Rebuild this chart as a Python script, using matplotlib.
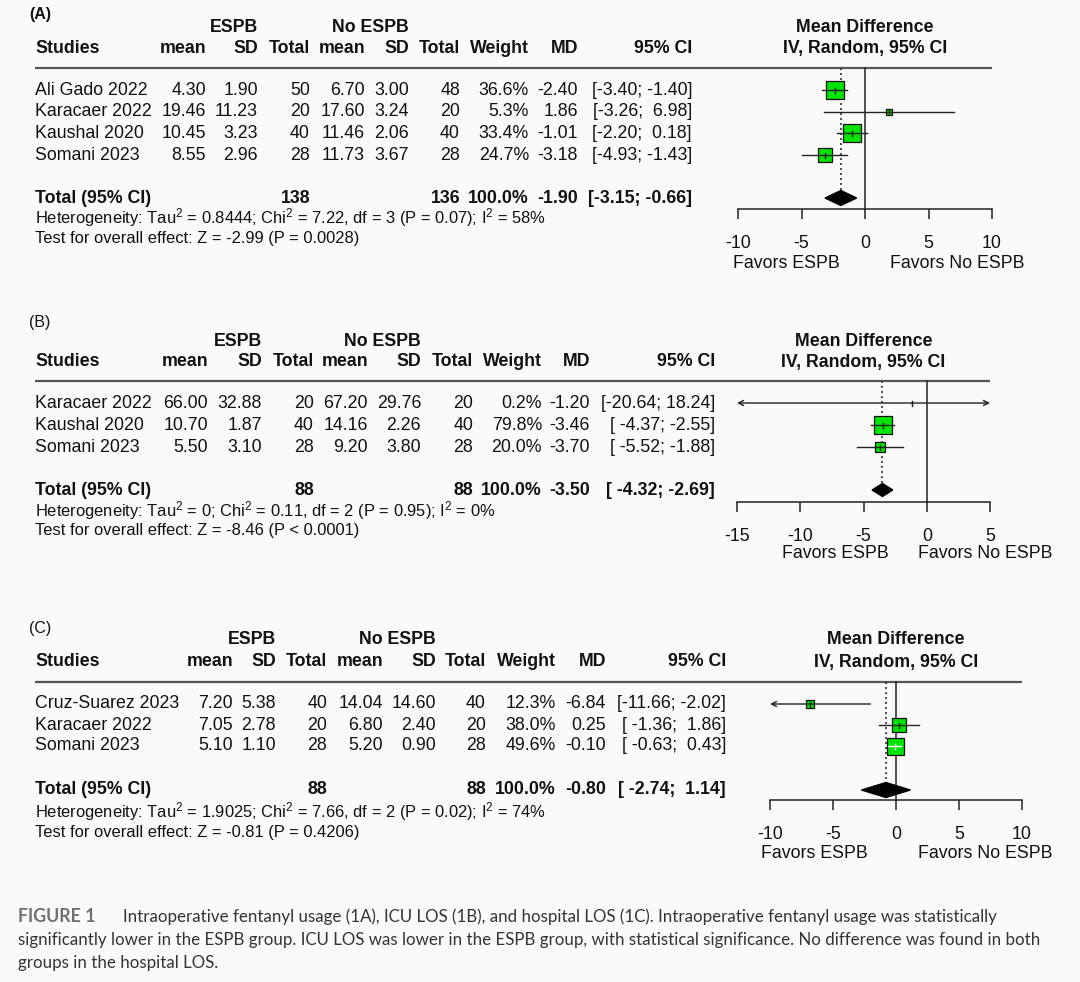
import numpy as np
import matplotlib
matplotlib.use("Agg")
import matplotlib.pyplot as plt

plt.rcParams['font.family'] = ['Liberation Sans', 'DejaVu Sans']
plt.rcParams['mathtext.default'] = 'regular'

# ---------------- DATA ----------------
A_studies = ["Ali Gado 2022", "Karacaer 2022", "Kaushal 2020", "Somani 2023"]
A_e_mean = [4.30, 19.46, 10.45, 8.55]
A_e_sd = [1.90, 11.23, 3.23, 2.96]
A_e_n = [50, 20, 40, 28]
A_c_mean = [6.70, 17.60, 11.46, 11.73]
A_c_sd = [3.00, 3.24, 2.06, 3.67]
A_c_n = [48, 20, 40, 28]
A_weight = [36.6, 5.3, 33.4, 24.7]
A_md = [-2.40, 1.86, -1.01, -3.18]
A_lo = [-3.40, -3.26, -2.20, -4.93]
A_hi = [-1.40, 6.98, 0.18, -1.43]
A_total_n = [138, 136]
A_total_md = [-1.90, -3.15, -0.66]
A_het = "Heterogeneity: Tau$^2$ = 0.8444; Chi$^2$ = 7.22, df = 3 (P = 0.07); I$^2$ = 58%"
A_test = "Test for overall effect: Z = -2.99 (P = 0.0028)"
A_ticks = [-10, -5, 0, 5, 10]

B_studies = ["Karacaer 2022", "Kaushal 2020", "Somani 2023"]
B_e_mean = [66.00, 10.70, 5.50]
B_e_sd = [32.88, 1.87, 3.10]
B_e_n = [20, 40, 28]
B_c_mean = [67.20, 14.16, 9.20]
B_c_sd = [29.76, 2.26, 3.80]
B_c_n = [20, 40, 28]
B_weight = [0.2, 79.8, 20.0]
B_md = [-1.20, -3.46, -3.70]
B_lo = [-20.64, -4.37, -5.52]
B_hi = [18.24, -2.55, -1.88]
B_total_n = [88, 88]
B_total_md = [-3.50, -4.32, -2.69]
B_het = "Heterogeneity: Tau$^2$ = 0; Chi$^2$ = 0.11, df = 2 (P = 0.95); I$^2$ = 0%"
B_test = "Test for overall effect: Z = -8.46 (P < 0.0001)"
B_ticks = [-15, -10, -5, 0, 5]

C_studies = ["Cruz-Suarez 2023", "Karacaer 2022", "Somani 2023"]
C_e_mean = [7.20, 7.05, 5.10]
C_e_sd = [5.38, 2.78, 1.10]
C_e_n = [40, 20, 28]
C_c_mean = [14.04, 6.80, 5.20]
C_c_sd = [14.60, 2.40, 0.90]
C_c_n = [40, 20, 28]
C_weight = [12.3, 38.0, 49.6]
C_md = [-6.84, 0.25, -0.10]
C_lo = [-11.66, -1.36, -0.63]
C_hi = [-2.02, 1.86, 0.43]
C_total_n = [88, 88]
C_total_md = [-0.80, -2.74, 1.14]
C_het = "Heterogeneity: Tau$^2$ = 1.9025; Chi$^2$ = 7.66, df = 2 (P = 0.02); I$^2$ = 74%"
C_test = "Test for overall effect: Z = -0.81 (P = 0.4206)"
C_ticks = [-10, -5, 0, 5, 10]

caption_label = "FIGURE 1"
caption_lines = [
    "Intraoperative fentanyl usage (1A), ICU LOS (1B), and hospital LOS (1C). Intraoperative fentanyl usage was statistically",
    "significantly lower in the ESPB group. ICU LOS was lower in the ESPB group, with statistical significance. No difference was found in both",
    "groups in the hospital LOS.",
]

# ---------------- LAYOUT ----------------
W, H = 1080, 982
FS = 12.75
FS_HET = 11.9
GREEN = '#00e400'
LINE = '#222222'

fig = plt.figure(figsize=(W / 100, H / 100), dpi=100, facecolor='#fafafa')
ax0 = fig.add_axes([0, 0, 1, 1])
ax0.set_xlim(0, W)
ax0.set_ylim(H, 0)
ax0.axis('off')
ax0.patch.set_alpha(0)


def ci_strings(lo, hi):
    los = [f"{v:.2f}" for v in lo]
    his = [f"{v:.2f}" for v in hi]
    wl = max(len(s) for s in los)
    wh = max(len(s) for s in his)
    return ["[" + a.rjust(wl) + "; " + b.rjust(wh) + "]" for a, b in zip(los, his)]


def panel(label, lab_bold, studies, em, esd, en, cm, csd, cn, wt, md, lo, hi,
          tot_n, tot_md, het, test, ticks, L):
    t = dict(fontsize=FS, va='center', color='#111111')
    tb = dict(t, fontweight='bold')
    cols = L['cols']
    # panel label
    ax0.text(29, L['lab_y'], label, fontsize=11.5, va='center',
             fontweight='bold' if lab_bold else 'normal', color='#111111')
    # group headers (right aligned to SD columns)
    ax0.text(cols[1], L['grp_y'], "ESPB", ha='right', **tb)
    ax0.text(cols[4], L['grp_y'], "No ESPB", ha='right', **tb)
    fc = (L['fx0'] + L['fx1']) / 2
    ax0.text(fc, L['grp_y'], "Mean Difference", ha='center', **tb)
    ax0.text(fc, L['head_y'], "IV, Random, 95% CI", ha='center', **tb)
    heads = ["mean", "SD", "Total", "mean", "SD", "Total", "Weight", "MD", "95% CI"]
    ax0.text(35, L['head_y'], "Studies", ha='left', **tb)
    for x, h in zip(cols, heads):
        ax0.text(x, L['head_y'], h, ha='right', **tb)
    ax0.plot([35, L['fx1']], [L['line_y'], L['line_y']], color='#555555', lw=1.6,
             solid_capstyle='butt')
    cis = ci_strings(list(lo) + [tot_md[1]], list(hi) + [tot_md[2]])
    ys = [L['row_y0'] + i * L['row_dy'] for i in range(len(studies))]
    for i, y in enumerate(ys):
        vals = [f"{em[i]:.2f}", f"{esd[i]:.2f}", f"{en[i]}", f"{cm[i]:.2f}",
                f"{csd[i]:.2f}", f"{cn[i]}", f"{wt[i]:.1f}%", f"{md[i]:.2f}", cis[i]]
        ax0.text(35, y, studies[i], ha='left', **t)
        for x, v in zip(cols, vals):
            ax0.text(x, y, v, ha='right', **t)
    ty = L['tot_y']
    ax0.text(35, ty, "Total (95% CI)", ha='left', **tb)
    ax0.text(cols[2], ty, f"{tot_n[0]}", ha='right', **tb)
    ax0.text(cols[5], ty, f"{tot_n[1]}", ha='right', **tb)
    ax0.text(cols[6], ty, f"{100.0:.1f}%", ha='right', **tb)
    ax0.text(cols[7], ty, f"{tot_md[0]:.2f}", ha='right', **tb)
    ax0.text(cols[8], ty, cis[-1], ha='right', **tb)
    th = dict(t, fontsize=FS_HET)
    ax0.text(35, L['het_y'], het, ha='left', **th)
    ax0.text(35, L['test_y'], test, ha='left', **th)

    # forest axes: x in data units, y in pixel units
    ytop, ybot = L['line_y'], L['axis_y'] + 60
    ax = fig.add_axes([L['fx0'] / W, 1 - ybot / H, (L['fx1'] - L['fx0']) / W,
                       (ybot - ytop) / H])
    ax.set_xlim(ticks[0], ticks[-1])
    ax.set_ylim(ybot, ytop)
    ax.patch.set_alpha(0)
    for s in ['top', 'left', 'right']:
        ax.spines[s].set_visible(False)
    ax.spines['bottom'].set_position(('data', L['axis_y']))
    ax.spines['bottom'].set_color(LINE)
    ax.spines['bottom'].set_linewidth(1.1)
    ax.set_yticks([])
    ax.set_xticks(ticks)
    ax.set_xticklabels([str(v) for v in ticks])
    ax.tick_params(axis='x', direction='out', length=7.5, width=1.1, color=LINE,
                   labelsize=FS, pad=11, labelcolor='#111111')
    xmin, xmax = ticks[0], ticks[-1]
    # reference line and pooled estimate line
    ax.plot([0, 0], [ytop, L['axis_y']], color=LINE, lw=1.1, clip_on=False)
    ax.plot([tot_md[0], tot_md[0]], [ytop, ty], color='#333333', lw=1.2,
            ls=(0, (1.2, 1.8)), clip_on=False, zorder=1)
    # pixel per data unit
    ppu = (L['fx1'] - L['fx0']) / (xmax - xmin)
    wmax = max(wt)
    for i, y in enumerate(ys):
        side_px = L['sq'] * np.sqrt(wt[i] / wmax)
        a, b = max(lo[i], xmin), min(hi[i], xmax)
        inside = (hi[i] - lo[i]) * ppu < side_px - 2
        ax.plot(md[i], y, marker='s', ms=side_px * 0.72, mfc=GREEN, mec='#111111',
                mew=0.9, zorder=3, clip_on=False)
        col = 'white' if inside else '#222222'
        if lo[i] < xmin or hi[i] > xmax:
            style = '<->' if (lo[i] < xmin and hi[i] > xmax) else ('<-' if lo[i] < xmin else '->')
            ax.annotate('', xy=(b, y), xytext=(a, y),
                        arrowprops=dict(arrowstyle=style, lw=1.0, color='#222222',
                                        shrinkA=0, shrinkB=0, mutation_scale=9),
                        zorder=4, annotation_clip=False)
        else:
            ax.plot([a, b], [y, y], color=col, lw=1.0, zorder=4, clip_on=False)
        ax.plot([md[i], md[i]], [y - 2.5, y + 2.5], color=col, lw=1.0, zorder=4,
                clip_on=False)
    dh = L['dh']
    ax.fill([tot_md[1], tot_md[0], tot_md[2], tot_md[0]], [ty, ty - dh, ty, ty + dh],
            color='black', zorder=5, clip_on=False)
    # favours labels
    ax0.text(L['fav_l'], L['fav_y'], "Favors ESPB", ha='right', **t)
    ax0.text(L['fav_r'], L['fav_y'], "Favors No ESPB", ha='left', **t)


LA = dict(lab_y=14, grp_y=27, head_y=48, line_y=68, row_y0=90, row_dy=21.7,
          tot_y=198, het_y=218, test_y=238, axis_y=209, fav_y=263,
          cols=[206, 258, 310, 365, 409, 460, 529, 578, 692],
          fx0=738, fx1=992, fav_l=840, fav_r=890, sq=18, dh=7.5)
LB = dict(lab_y=322, grp_y=341, head_y=362, line_y=381, row_y0=403, row_dy=22,
          tot_y=490, het_y=511, test_y=531, axis_y=502, fav_y=553,
          cols=[208, 262, 314, 368, 421, 473, 542, 590, 715],
          fx0=737, fx1=990, fav_l=889, fav_r=918, sq=18.3, dh=6.5)
LC = dict(lab_y=628, grp_y=640, head_y=662, line_y=682, row_y0=704, row_dy=21,
          tot_y=790, het_y=812, test_y=832, axis_y=800, fav_y=853,
          cols=[233, 276, 327, 383, 436, 486, 556, 606, 726],
          fx0=770, fx1=1022, fav_l=868, fav_r=918, sq=17, dh=7.5)

panel("(A)", True, A_studies, A_e_mean, A_e_sd, A_e_n, A_c_mean, A_c_sd, A_c_n,
      A_weight, A_md, A_lo, A_hi, A_total_n, A_total_md, A_het, A_test, A_ticks, LA)
panel("(B)", False, B_studies, B_e_mean, B_e_sd, B_e_n, B_c_mean, B_c_sd, B_c_n,
      B_weight, B_md, B_lo, B_hi, B_total_n, B_total_md, B_het, B_test, B_ticks, LB)
panel("(C)", False, C_studies, C_e_mean, C_e_sd, C_e_n, C_c_mean, C_c_sd, C_c_n,
      C_weight, C_md, C_lo, C_hi, C_total_n, C_total_md, C_het, C_test, C_ticks, LC)

# caption
cap_fs = 12.2
cap_fam = ['Lato', 'DejaVu Sans']
ax0.text(18, 917, caption_label, fontsize=cap_fs + 0.6, family=cap_fam,
         fontweight='bold', color='#707070', va='center', ha='left')
ax0.text(123, 917, caption_lines[0], fontsize=cap_fs, family=cap_fam,
         color='#333333', va='center', ha='left')
ax0.text(18, 940, caption_lines[1], fontsize=cap_fs, family=cap_fam,
         color='#333333', va='center', ha='left')
ax0.text(18, 963, caption_lines[2], fontsize=cap_fs, family=cap_fam,
         color='#333333', va='center', ha='left')

fig.savefig("out.png", dpi=100, facecolor=fig.get_facecolor())
